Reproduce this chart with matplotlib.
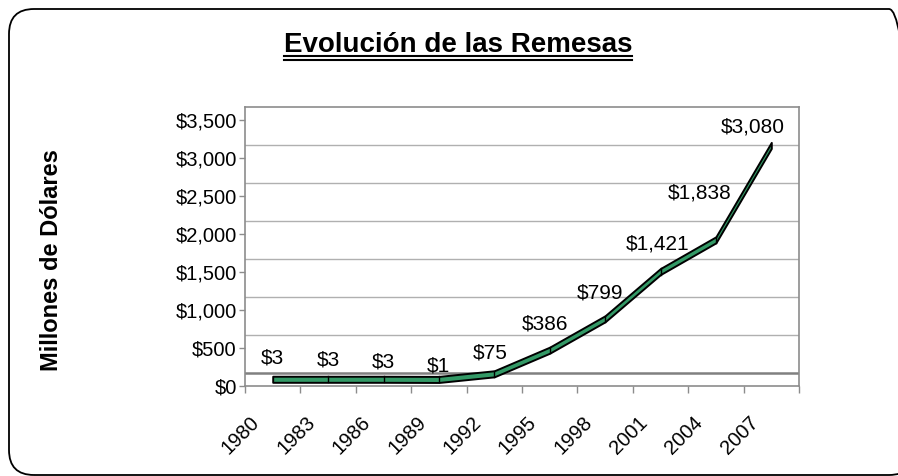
import matplotlib
matplotlib.use("Agg")
import matplotlib.pyplot as plt
from matplotlib.patches import FancyBboxPatch
from matplotlib.lines import Line2D
from matplotlib.transforms import IdentityTransform, ScaledTranslation
import numpy as np

# ---- data ----
years = ["1980", "1983", "1986", "1989", "1992", "1995", "1998", "2001", "2004", "2007"]
remesas = [3, 3, 3, 1, 75, 386, 799, 1421, 1838, 3080]
labels = ["$3", "$3", "$3", "$1", "$75", "$386", "$799", "$1,421", "$1,838", "$3,080"]
yticks = [0, 500, 1000, 1500, 2000, 2500, 3000, 3500]
ytick_labels = ["$0", "$500", "$1,000", "$1,500", "$2,000", "$2,500", "$3,000", "$3,500"]
title = "Evolución de las Remesas"
ylabel = "Millones de Dólares"

# label offsets in pixels (dx, dy up)
label_off = [(0, 21), (0, 19), (0, 17), (0, 13), (-4, 21), (-5, 26), (-5, 26), (-3, 28), (-16, 47), (-19, 18)]

plt.rcParams['font.family'] = ['Liberation Sans', 'DejaVu Sans']

W, H, DPI = 898, 476, 100
fig = plt.figure(figsize=(W / DPI, H / DPI), dpi=DPI)
fig.patch.set_facecolor("white")

L, R, T, B = 245, 799, 107, 386
ax = fig.add_axes([L / W, (H - B) / H, (R - L) / W, (B - T) / H])

DEPTH = 171.0  # depth of the 3D floor in data units
ax.set_ylim(0, 3500 + DEPTH)
n = len(years)
x = np.arange(n)
ax.set_xlim(-0.5, n - 0.5)

grid_c = "#b0b0b0"
axis_c = "#8c8c8c"
for v in yticks[1:-1]:
    ax.axhline(v + DEPTH, color=grid_c, lw=1.0, zorder=1)
ax.axhline(DEPTH, color="#808080", lw=1.8, zorder=1)

for s in ax.spines.values():
    s.set_color(axis_c)
    s.set_linewidth(1.2)

# ribbon
vals = np.array(remesas, dtype=float)
mid = vals + DEPTH / 2
half = 40.0
ax.fill_between(x, mid - half, mid + half, facecolor="#339966", edgecolor="black", lw=1.4, zorder=3)
for i in range(1, n - 1):
    ax.plot([x[i], x[i]], [mid[i] - half, mid[i] + half], color="black", lw=1.0, zorder=4)

# data labels
for i in range(n):
    dx, dy = label_off[i]
    ax.annotate(labels[i], (x[i], mid[i]), xytext=(dx * 0.72, dy * 0.72),
                textcoords="offset points", ha="center", va="center",
                fontsize=15, color="black", zorder=5)

ax.set_yticks(yticks)
ax.set_yticklabels(ytick_labels, fontsize=14.5)
ax.tick_params(axis="y", length=4, color=axis_c, width=1.0, pad=2)

ax.set_xticks(np.arange(-0.5, n, 1.0))
ax.set_xticklabels([])
ax.tick_params(axis="x", which="major", length=5, color=axis_c, width=1.0)
ax.set_xticks(x, minor=True)
ax.set_xticklabels(years, minor=True, rotation=45, ha="right", va="center",
                   rotation_mode="anchor", fontsize=14.5)
ax.tick_params(axis="x", which="minor", length=0, pad=24)
shift = ScaledTranslation(-16 / DPI, 0, fig.dpi_scale_trans)
for lab in ax.get_xticklabels(minor=True):
    lab.set_transform(lab.get_transform() + shift)

# y label
fig.text(52 / W, 1 - 260 / H, ylabel, rotation=90, ha="center", va="center",
         fontsize=17, fontweight="bold")

# title
t = fig.text(458 / W, 1 - 52 / H, title, ha="center", va="baseline", fontsize=20, fontweight="bold")
fig.canvas.draw()
bb = t.get_window_extent(fig.canvas.get_renderer())
for yy in (55.5, 59.5):
    fig.add_artist(Line2D([bb.x0, bb.x1], [H - yy, H - yy], transform=IdentityTransform(),
                          color="black", lw=1.5))

# rounded border
box = FancyBboxPatch((9, 1), 905, 466, boxstyle="round,pad=0,rounding_size=25",
                     transform=IdentityTransform(), facecolor="none", edgecolor="black", lw=1.3)
fig.add_artist(box)

fig.savefig("out.png", dpi=DPI)
